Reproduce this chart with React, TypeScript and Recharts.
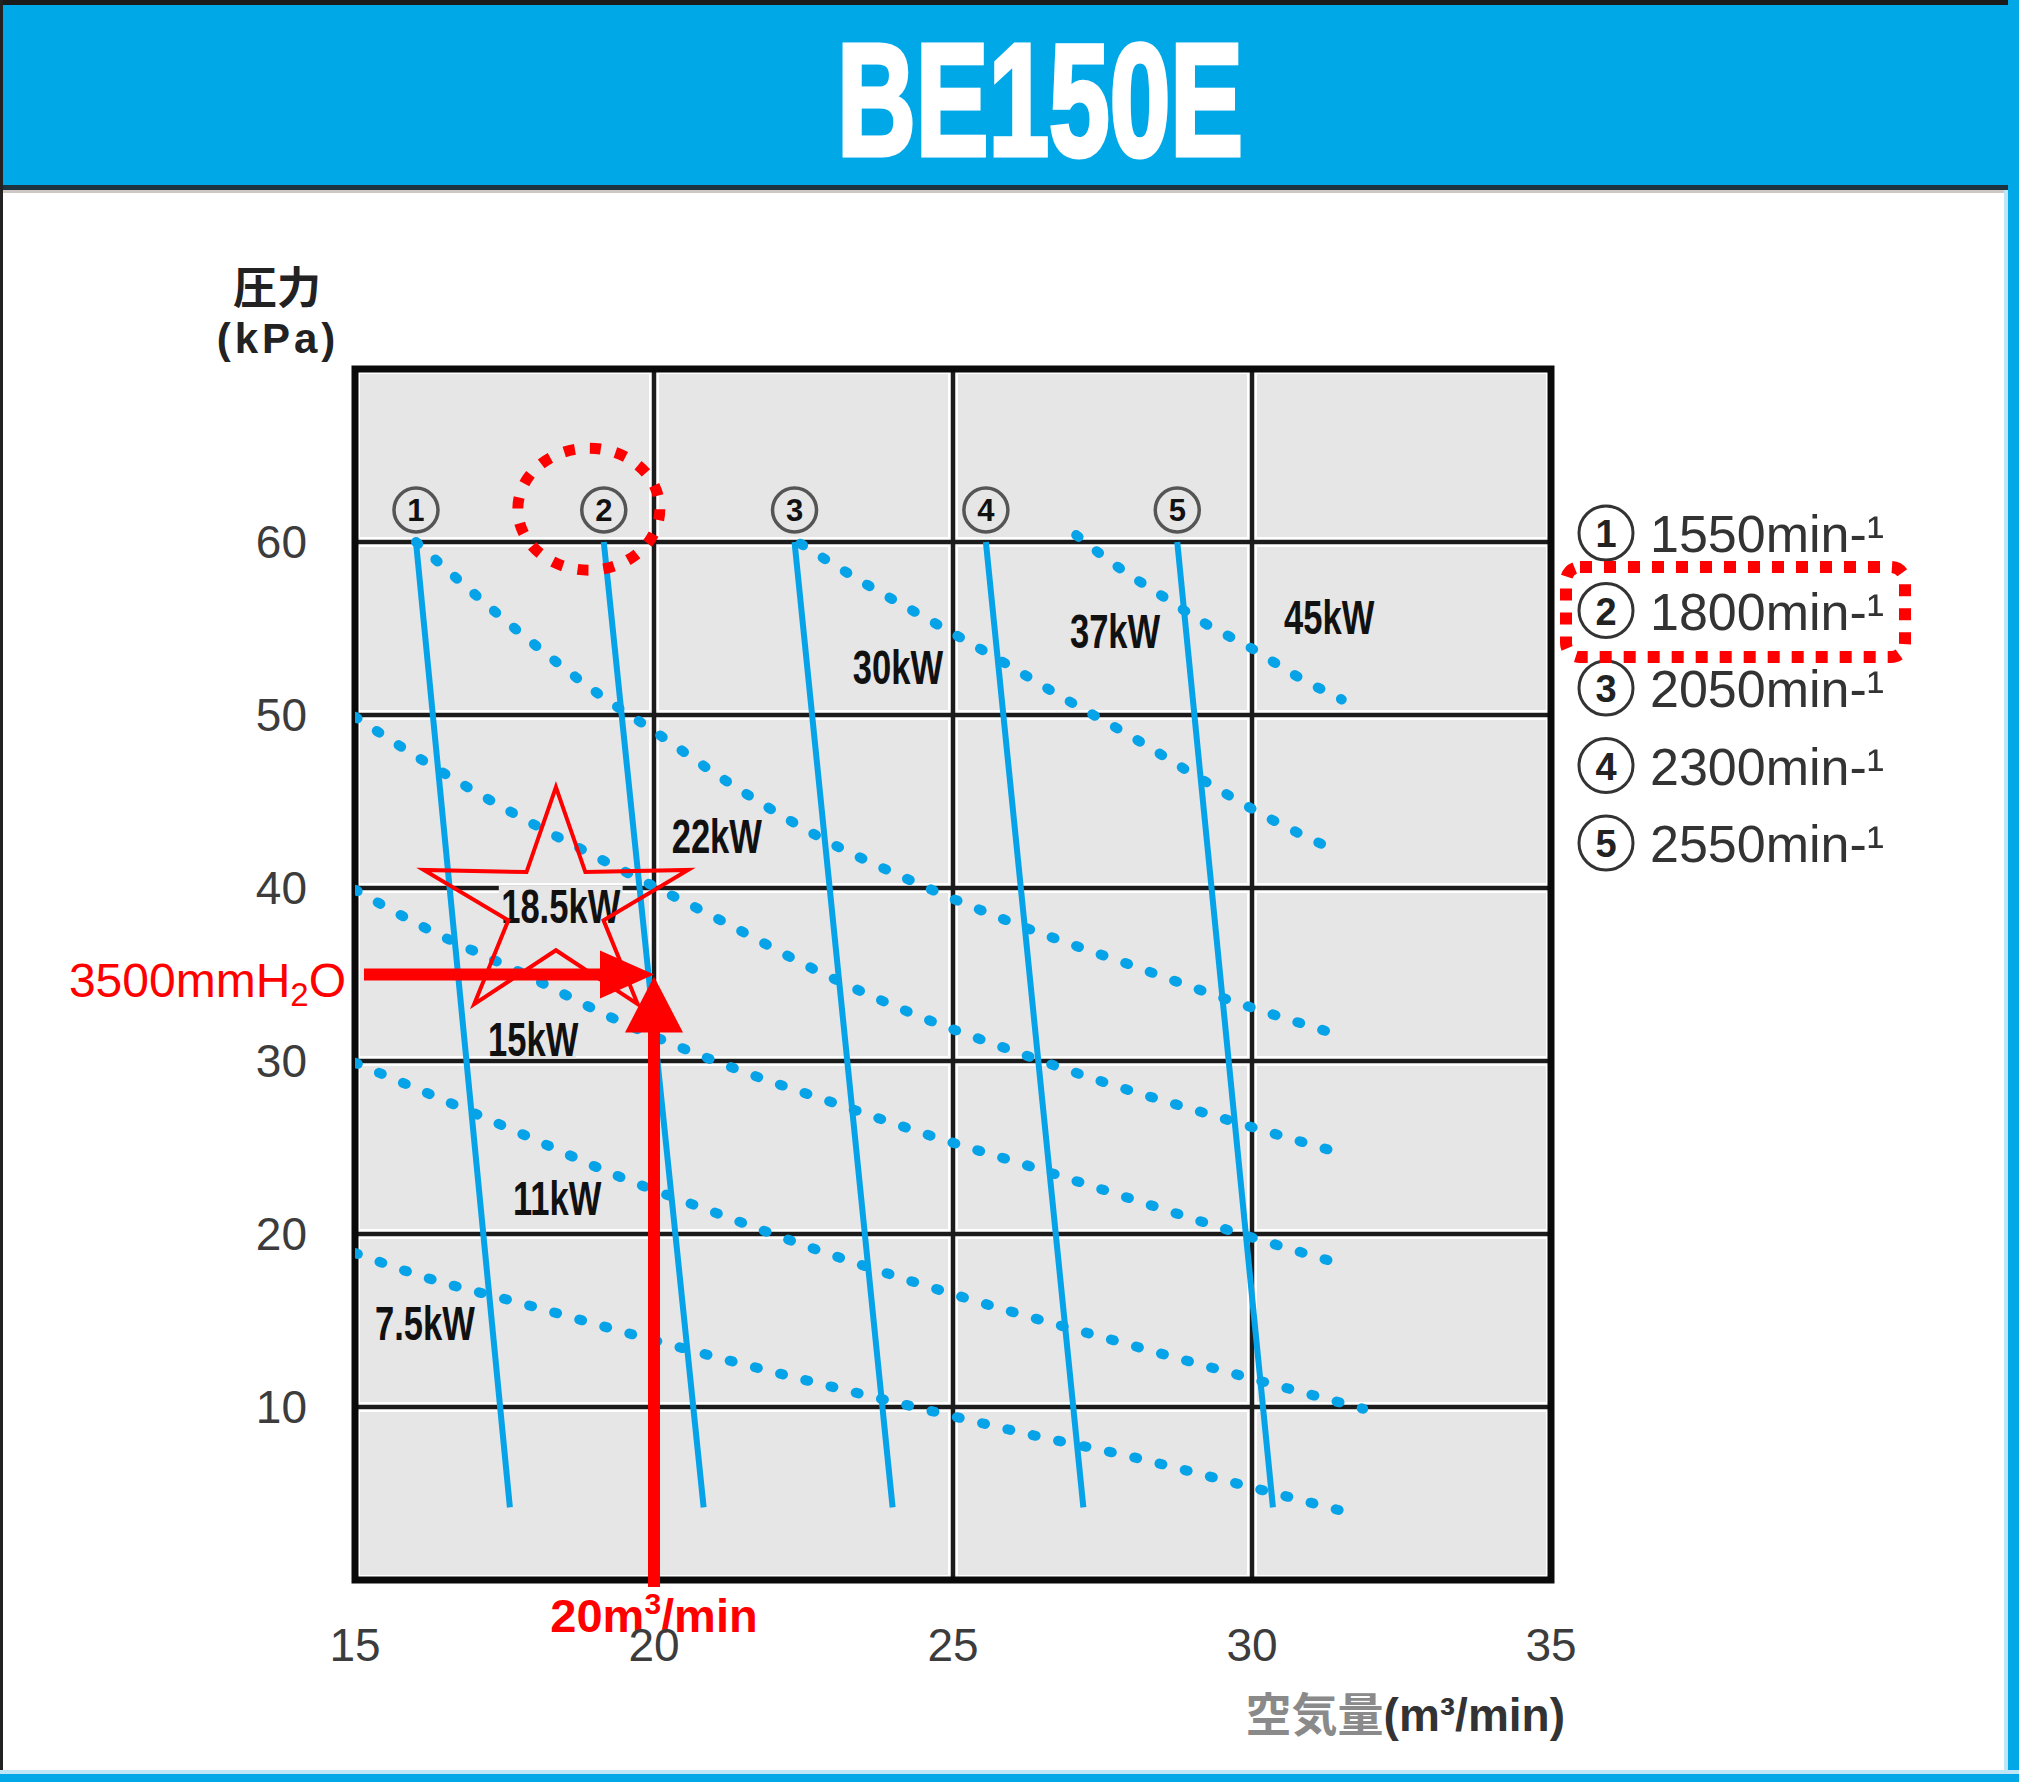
import React from "react";
import {
  LineChart,
  Line,
  XAxis,
  YAxis,
  CartesianGrid,
  ReferenceArea,
  ReferenceLine,
  ReferenceDot,
} from "recharts";

const W = 2019;
const H = 1782;
const BLUE = "#00a8e8";
const LINE_BLUE = "#07a3e8";
const RED = "#ff0000";
const PLOT_BG = "#e6e6e6";
const SANS = "'Liberation Sans', Arial, sans-serif";
const CJK = "'Noto Sans CJK JP', 'Noto Sans CJK SC', sans-serif";

const xTicks = [15, 20, 25, 30, 35];
const yTicks = [10, 20, 30, 40, 50, 60];

// speed lines ①-⑤ : straight lines, top and bottom ends
const speedMarks = ["1", "2", "3", "4", "5"];
const speedRpm = ["1550", "1800", "2050", "2300", "2550"];
const speedTopX = [16.02, 19.16, 22.35, 25.55, 28.75];
const speedBottomX = [17.59, 20.83, 23.99, 27.18, 30.35];
const speedTopY = 60;
const speedBottomY = 4.2;
const speedMarkY = 61.85;

// shaft power lines, [air flow m3/min, pressure kPa]
const kw7_5 = [[15, 18.9], [16.17, 17.5], [17.88, 15.9], [19.53, 14.3], [21.24, 12.7], [22.94, 11.2], [24.6, 9.8], [26.3, 8.4], [28.01, 7.1], [29.72, 5.6], [31.5, 4.0]];
const kw11 = [[15, 29.9], [16.17, 28.2], [17.78, 25.8], [19.36, 23.4], [20.97, 21.3], [22.63, 19.2], [24.28, 17.3], [25.99, 15.5], [27.64, 13.9], [29.3, 12.3], [31.0, 10.7], [31.86, 9.9]];
const kw15 = [[15, 39.9], [16.17, 37.7], [17.78, 35.1], [19.36, 32.4], [21.4, 29.5], [22.99, 27.6], [24.7, 25.6], [26.3, 23.9], [28.01, 22.0], [29.72, 20.1], [31.55, 18.2]];
const kw18_5 = [[15, 49.9], [16.17, 47.3], [17.66, 44.3], [19.26, 41.4], [21.19, 38.0], [22.68, 35.3], [24.28, 32.8], [25.99, 30.6], [27.59, 28.7], [29.3, 26.9], [31.55, 24.6]];
const kw22 = [[16.02, 60.0], [17.78, 54.7], [19.16, 51.0], [19.9, 49.3], [21.29, 46.0], [22.79, 42.9], [24.38, 40.3], [25.99, 38.0], [28.01, 35.5], [29.72, 33.4], [31.55, 31.4]];
const kw30 = [[22.45, 59.9], [23.48, 57.7], [24.6, 55.5], [25.72, 53.3], [26.84, 51.0], [28.01, 48.7], [29.1, 46.4], [30.25, 44.1], [31.5, 42.0]];
const kw37 = [[27.06, 60.4], [27.74, 58.6], [28.49, 56.9], [29.21, 55.3], [29.97, 53.9], [30.72, 52.3], [31.5, 50.9]];

const kwNames = ["7.5kW", "11kW", "15kW", "18.5kW", "22kW", "30kW", "37kW", "45kW"];
const kwLabelX = [16.17, 18.38, 17.98, 18.44, 21.05, 24.08, 27.71, 31.29];
const kwLabelY = [14.9, 22.1, 31.3, 39.0, 43.0, 52.8, 54.9, 55.7];

// selected operating point
const flowPoint = 20; // m3/min
const pressurePoint = 35; // kPa  (3500mmH2O)
const starX = 18.36;
const starY = 38.9;
const ringX = 18.91;
const ringY = 61.9;

const toPts = (arr: number[][]) => arr.map(([x, y]) => ({ x, y }));

function starPoints(cx: number, cy: number, rx: number, ry: number, inner: number) {
  const pts: string[] = [];
  for (let i = 0; i < 10; i++) {
    const a = -Math.PI / 2 + (i * Math.PI) / 5;
    const k = i % 2 === 0 ? 1 : inner;
    pts.push(`${cx + Math.cos(a) * rx * k},${cy + Math.sin(a) * ry * k}`);
  }
  return pts.join(" ");
}

const KwLabel = ({ cx, cy, text }: any) => (
  <g transform={`translate(${cx},${cy}) scale(0.72,1)`}>
    <rect x={-(text.length * 27 + 10) / 2} y={-20} width={text.length * 27 + 10} height={40} fill={PLOT_BG} />
    <text x={0} y={0} dy="0.36em" textAnchor="middle" fontSize={48} fontWeight="bold" fontFamily={SANS} fill="#111">
      {text}
    </text>
  </g>
);

const CircleMark = ({ cx, cy, text }: any) => (
  <g>
    <circle cx={cx} cy={cy} r={22} fill="none" stroke="#555" strokeWidth={3.5} />
    <text x={cx} y={cy} dy="0.36em" textAnchor="middle" fontSize={31} fontWeight="bold" fontFamily={SANS} fill="#111">
      {text}
    </text>
  </g>
);

export default function App() {
  const powerSeries = [kw7_5, kw11, kw15, kw18_5, kw22, kw30, kw37].map(toPts);
  const speedSeries = speedTopX.map((tx, i) => [
    { x: tx, y: speedTopY },
    { x: speedBottomX[i], y: speedBottomY },
  ]);

  return (
    <div style={{ position: "absolute", left: 0, top: 0, width: W, height: H, background: "#fff", overflow: "hidden" }}>
      <svg width={W} height={H} style={{ position: "absolute", left: 0, top: 0 }}>
        {/* frame */}
        <rect x={0} y={0} width={W} height={5} fill="#1b1b1b" />
        <rect x={0} y={5} width={W} height={180} fill={BLUE} />
        <rect x={0} y={185} width={W} height={5} fill="#1d3340" />
        <rect x={0} y={190} width={W} height={3} fill="#cdc8c4" />
        <rect x={0} y={0} width={3} height={H} fill="#222" />
        <rect x={2004} y={190} width={4} height={H} fill="#bfe6f6" />
        <rect x={2008} y={0} width={11} height={H} fill={BLUE} />
        <rect x={0} y={1770} width={W} height={4} fill="#bfe6f6" />
        <rect x={0} y={1774} width={W} height={8} fill={BLUE} />
        <text x={837} y={155} textLength={406} lengthAdjust="spacingAndGlyphs" fontSize={160} fontWeight="bold" fill="#fff" stroke="#fff" strokeWidth={5} fontFamily={SANS}>
          BE150E
        </text>

        {/* axis titles */}
        <text x={277} y={304} textAnchor="middle" fontSize={44} fontWeight="bold" fill="#222" fontFamily={CJK}>
          圧力
        </text>
        <text x={278} y={353} textAnchor="middle" fontSize={42} fontWeight="bold" fill="#222" fontFamily={SANS} letterSpacing={4}>
          (kPa)
        </text>
        <text x={1565} y={1731} textAnchor="end" fontSize={46} fontFamily={SANS}>
          <tspan fill="#8a8a8a" fontFamily={CJK} fontWeight="bold">空気量</tspan>
          <tspan fill="#333" fontWeight="bold">(m³/min)</tspan>
        </text>

        {/* legend */}
        {speedRpm.map((rpm, i) => {
          const cy = 533 + i * 77.5;
          return (
            <g key={rpm}>
              <circle cx={1606} cy={cy} r={27} fill="none" stroke="#333" strokeWidth={3} />
              <text x={1606} y={cy + 14} textAnchor="middle" fontSize={38} fontWeight="bold" fill="#222" fontFamily={SANS}>
                {speedMarks[i]}
              </text>
              <text x={1650} y={cy + 19} fontSize={52} fill="#333" fontFamily={SANS}>
                {rpm}min-¹
              </text>
            </g>
          );
        })}
        <rect x={1566} y={567} width={339} height={90} rx={14} fill="none" stroke={RED} strokeWidth={12} strokeDasharray="12 12" />
      </svg>

      <div style={{ position: "absolute", left: 0, top: 0 }}>
        <LineChart width={W} height={H} margin={{ top: 369, right: W - 1551, bottom: H - 1580 - 60, left: 355 - 80 }}>
          <CartesianGrid fill={PLOT_BG} fillOpacity={1} stroke="#fff" strokeWidth={10} />
          <CartesianGrid stroke="#1c1c1c" strokeWidth={4.5} />
          <XAxis
            type="number"
            dataKey="x"
            domain={[15, 35]}
            ticks={xTicks}
            interval={0}
            allowDataOverflow
            axisLine={false}
            tickLine={false}
            tickSize={0}
            tickMargin={48}
            height={60}
            tick={{ fontSize: 46, fill: "#3c3c3c", fontFamily: SANS }}
          />
          <YAxis
            type="number"
            domain={[0, 70]}
            ticks={yTicks}
            interval={0}
            allowDataOverflow
            axisLine={false}
            tickLine={false}
            tickSize={0}
            tickMargin={48}
            width={80}
            tick={{ fontSize: 46, fill: "#3c3c3c", fontFamily: SANS }}
          />
          <ReferenceArea x1={15} x2={35} y1={0} y2={70} fill="none" stroke="#0a0a0a" strokeWidth={7} ifOverflow="visible" />

          {powerSeries.map((pts, i) => (
            <Line
              key={kwNames[i]}
              data={pts}
              dataKey="y"
              type="monotone"
              stroke={LINE_BLUE}
              strokeWidth={10}
              strokeDasharray="3 23"
              strokeLinecap="round"
              dot={false}
              activeDot={false}
              isAnimationActive={false}
            />
          ))}
          {speedSeries.map((pts, i) => (
            <Line
              key={speedRpm[i]}
              data={pts}
              dataKey="y"
              type="linear"
              stroke={LINE_BLUE}
              strokeWidth={6}
              dot={false}
              activeDot={false}
              isAnimationActive={false}
            />
          ))}

          {kwNames.map((name, i) => (
            <ReferenceDot key={name} x={kwLabelX[i]} y={kwLabelY[i]} r={0} shape={(p: any) => <KwLabel cx={p.cx} cy={p.cy} text={name} />} />
          ))}
          {speedTopX.map((tx, i) => (
            <ReferenceDot key={"m" + i} x={tx} y={speedMarkY} r={0} shape={(p: any) => <CircleMark cx={p.cx} cy={p.cy} text={speedMarks[i]} />} />
          ))}

          {/* red annotations */}
          <ReferenceDot
            x={ringX}
            y={ringY}
            r={0}
            shape={(p: any) => (
              <ellipse cx={p.cx} cy={p.cy} rx={71} ry={61} fill="none" stroke={RED} strokeWidth={11} strokeDasharray="11 15" />
            )}
          />
          <ReferenceDot
            x={starX}
            y={starY}
            r={0}
            shape={(p: any) => (
              <polygon points={starPoints(p.cx, p.cy, 139, 120, 0.36)} fill="none" stroke={RED} strokeWidth={4} strokeLinejoin="miter" />
            )}
          />
          <ReferenceLine
            segment={[{ x: 15.15, y: pressurePoint }, { x: flowPoint - 0.5, y: pressurePoint }]}
            stroke={RED}
            strokeWidth={12}
            ifOverflow="visible"
          />
          <ReferenceLine
            segment={[{ x: flowPoint, y: -0.4 }, { x: flowPoint, y: pressurePoint - 1.5 }]}
            stroke={RED}
            strokeWidth={12}
            ifOverflow="visible"
          />
          <ReferenceDot
            x={flowPoint}
            y={pressurePoint}
            r={0}
            shape={(p: any) => (
              <g>
                <polygon points={`${p.cx},${p.cy} ${p.cx - 54},${p.cy - 24} ${p.cx - 54},${p.cy + 24}`} fill={RED} />
                <polygon points={`${p.cx},${p.cy + 2} ${p.cx - 29},${p.cy + 58} ${p.cx + 29},${p.cy + 58}`} fill={RED} />
              </g>
            )}
          />
          <ReferenceDot
            x={15}
            y={pressurePoint}
            r={0}
            shape={(p: any) => (
              <text x={p.cx - 9} y={p.cy + 22} textAnchor="end" fontSize={48} fill={RED} fontFamily={SANS}>
                3500mmH<tspan fontSize={33} dy={9}>2</tspan>
                <tspan dy={-9}>O</tspan>
              </text>
            )}
          />
          <ReferenceDot
            x={flowPoint}
            y={0}
            r={0}
            shape={(p: any) => (
              <text x={p.cx} y={p.cy + 52} textAnchor="middle" fontSize={47} fontWeight="bold" fill={RED} fontFamily={SANS}>
                20m<tspan fontSize={30} dy={-18}>3</tspan>
                <tspan dy={18}>/min</tspan>
              </text>
            )}
          />
        </LineChart>
      </div>
    </div>
  );
}
